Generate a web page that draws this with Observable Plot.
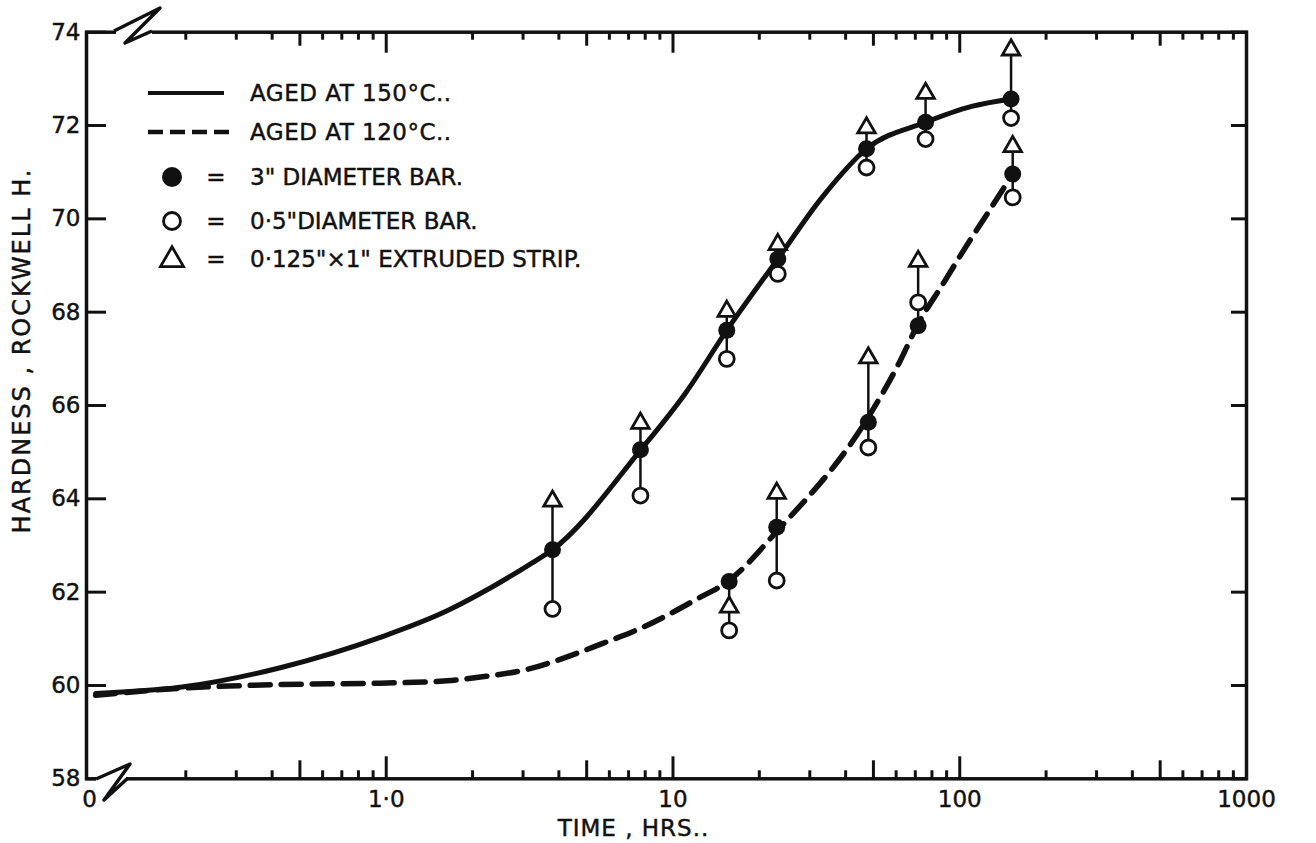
<!DOCTYPE html>
<html>
<head>
<meta charset="utf-8">
<script src="https://cdn.jsdelivr.net/npm/d3@7"></script>
<script src="https://cdn.jsdelivr.net/npm/@observablehq/plot@0.6"></script>
<style>
  body { margin: 0; background: #ffffff; }
  #chart svg { display: block; }
  #chart svg text { stroke: #111; stroke-width: 0.45px; }
</style>
</head>
<body>
<div id="chart"></div>
<script>
// ---------- data ----------
const xMin = 0.0901, xMax = 1000;
const xTickValues = [0.0901, 1, 10, 100, 1000];
const xTickLabels = ["0", "1·0", "10", "100", "1000"];
const xMajorTicks = [1, 10, 100];
const xFiveTicks = [0.5, 5, 50, 500];
const xMinorTicks = [0.2, 0.3, 0.4, 0.6, 0.7, 0.8, 0.9, 2, 3, 4, 6, 7, 8, 9, 20, 30, 40, 60, 70, 80, 90, 200, 300, 400, 600, 700, 800, 900];
const yTickValues = [58, 60, 62, 64, 66, 68, 70, 72, 74];

// Aged at 150 C (solid curve)
const times150 = [3.8, 7.7, 15.4, 23.2, 47.3, 76, 151];
const bar3in150 = [62.91, 65.05, 67.61, 69.14, 71.50, 72.07, 72.57];
const bar05in150 = [61.64, 64.07, 67.00, 68.82, 71.10, 71.71, 72.16];
const strip150 = [63.95, 65.62, 68.02, 69.45, 71.95, 72.69, 73.62];

// Aged at 120 C (dashed curve)
const times120 = [15.7, 23.0, 48.0, 71.6, 153];
const bar3in120 = [62.23, 63.39, 65.64, 67.71, 70.96];
const bar05in120 = [61.18, 62.25, 65.10, 68.21, 70.46];
const strip120 = [61.68, 64.12, 67.02, 69.09, 71.55];

// curves as traced
const curve150T = [0.0969, 0.191, 0.427, 0.953, 1.63, 2.13, 3.25, 3.8, 7.72, 11.1, 15.4, 23.2, 33, 47.3, 76, 110, 151];
const curve150V = [59.83, 59.96, 60.38, 61.03, 61.60, 61.97, 62.64, 62.91, 65.05, 66.28, 67.61, 69.14, 70.45, 71.50, 72.07, 72.41, 72.57];
const curve120T = [0.0969, 0.191, 0.427, 0.953, 1.63, 2.13, 3.17, 4.04, 5.57, 7.87, 12.1, 15.7, 23.0, 48.0, 61.9, 71.6, 87.3, 105, 123, 153];
const curve120V = [59.79, 59.94, 60.02, 60.05, 60.10, 60.18, 60.36, 60.56, 60.88, 61.25, 61.85, 62.25, 63.30, 65.75, 66.95, 67.75, 68.60, 69.40, 70.05, 70.96];

// texts
const legendLines = ["AGED AT 150°C..", "AGED AT 120°C.."];
const legendSymbols = ["3\" DIAMETER BAR.", "0·5\"DIAMETER BAR.", "0·125\"×1\" EXTRUDED STRIP."];
const xTitle = "TIME , HRS..";
const yTitle = "HARDNESS , ROCKWELL H.";

// ---------- build tables ----------
function points(times, a, b, c) {
  const out = [];
  times.forEach((t, i) => {
    out.push({t, v: a[i], kind: "bar3"});
    out.push({t, v: b[i], kind: "bar05"});
    out.push({t, v: c[i], kind: "strip"});
  });
  return out;
}
function spans(times, a, b, c) {
  return times.map((t, i) => ({t, lo: Math.min(a[i], b[i], c[i]), hi: Math.max(a[i], b[i], c[i])}));
}
const pts = points(times150, bar3in150, bar05in150, strip150).concat(points(times120, bar3in120, bar05in120, strip120));
const conn = spans(times150, bar3in150, bar05in150, strip150).concat(spans(times120, bar3in120, bar05in120, strip120));
const c150 = curve150T.map((t, i) => ({t, v: curve150V[i]}));
const c120 = curve120T.map((t, i) => ({t, v: curve120V[i]}));

const FONT = "DejaVu Sans, Verdana, sans-serif";
const FS = 23;
const W = 1316, H = 843;
const mL = 86, mR = 70, mT = 31.7, mB = 64.7;
const blank = () => "";

const plot = Plot.plot({
  width: W, height: H,
  marginLeft: mL, marginRight: mR, marginTop: mT, marginBottom: mB,
  style: {fontFamily: FONT, fontSize: FS + "px", color: "#111", background: "#fff"},
  x: {type: "log", domain: [xMin, xMax]},
  y: {domain: [58, 74]},
  marks: [
    // tick labels
    Plot.axisX(xTickValues.slice(1), {anchor: "bottom", tickSize: 0, tickPadding: 12, fontSize: FS,
      tickFormat: d => xTickLabels[xTickValues.indexOf(d)], label: null}),
    Plot.text([xTickValues[0]], {x: d => d, frameAnchor: "bottom", lineAnchor: "top", dy: 12, dx: 3,
      text: d => xTickLabels[xTickValues.indexOf(d)], fontSize: FS, fill: "#111"}),
    Plot.axisY(yTickValues, {anchor: "left", tickSize: 0, tickPadding: 6, fontSize: FS, tickFormat: d => String(d), label: null}),
    // inward ticks bottom
    Plot.axisX(xMajorTicks, {anchor: "bottom", tickSize: 22, dy: -22, tickFormat: blank, strokeWidth: 3, label: null}),
    Plot.axisX(xFiveTicks, {anchor: "bottom", tickSize: 18, dy: -18, tickFormat: blank, strokeWidth: 3, label: null}),
    Plot.axisX(xMinorTicks, {anchor: "bottom", tickSize: 8, dy: -8, tickFormat: blank, strokeWidth: 3, label: null}),
    // inward ticks top
    Plot.axisX(xMajorTicks, {anchor: "top", tickSize: 20, dy: 20, tickFormat: blank, strokeWidth: 3, label: null}),
    Plot.axisX(xFiveTicks, {anchor: "top", tickSize: 13, dy: 13, tickFormat: blank, strokeWidth: 3, label: null}),
    Plot.axisX(xMinorTicks, {anchor: "top", tickSize: 7, dy: 7, tickFormat: blank, strokeWidth: 3, label: null}),
    // inward ticks left / right
    Plot.axisY(yTickValues, {anchor: "left", tickSize: 20, dx: 20, tickFormat: blank, strokeWidth: 3, label: null}),
    Plot.axisY(yTickValues, {anchor: "right", tickSize: 16, dx: -16, tickFormat: blank, strokeWidth: 3, label: null}),
    Plot.frame({stroke: "#111", strokeWidth: 3.5}),
    // axis titles
    Plot.text([xTitle], {text: d => d, frameAnchor: "bottom", textAnchor: "middle", lineAnchor: "middle",
      dx: -33, dy: 50, fontSize: 23, fill: "#111"}),
    Plot.text([yTitle], {text: d => d, frameAnchor: "left", textAnchor: "middle", lineAnchor: "middle",
      dx: -64, dy: -55, rotate: -90, fontSize: 24, fill: "#111"}),
    // connectors
    Plot.ruleX(conn, {x: "t", y1: "lo", y2: "hi", stroke: "#111", strokeWidth: 2.5}),
    // curves
    Plot.line(c150, {x: "t", y: "v", curve: "monotone-x", stroke: "#111", strokeWidth: 5}),
    Plot.line(c120, {x: "t", y: "v", curve: "monotone-x", stroke: "#111", strokeWidth: 5.5, strokeDasharray: "20,11"}),
    // markers
    Plot.dot(pts.filter(d => d.kind === "bar05"), {x: "t", y: "v", r: 7.5, fill: "white", stroke: "#111", strokeWidth: 2.8}),
    Plot.dot(pts.filter(d => d.kind === "strip"), {x: "t", y: "v", symbol: "triangle", r: 6.5, fill: "white", stroke: "#111", strokeWidth: 2.8}),
    Plot.dot(pts.filter(d => d.kind === "bar3"), {x: "t", y: "v", r: 8.5, fill: "#111", stroke: "none"})
  ]
});
document.getElementById("chart").appendChild(plot);

// letter spacing for the axis titles
d3.select(plot).selectAll("text").filter(function() { return this.textContent === yTitle; }).style("letter-spacing", "2px");
d3.select(plot).selectAll("text").filter(function() { return this.textContent === xTitle; }).style("letter-spacing", "1px");

// ---------- axis breaks & legend (decoration) ----------
const svg = d3.select(plot);
const deco = svg.append("g").attr("fill", "none").attr("stroke", "#111").attr("stroke-width", 3.5).attr("stroke-linejoin", "round");
svg.insert("rect", "g:last-child").attr("x", 116).attr("y", 26).attr("width", 36).attr("height", 11).attr("fill", "#fff");
deco.append("path").attr("d", "M114,31 L160,8 L125,43 L152,31");
svg.insert("rect", "g:last-child").attr("x", 96).attr("y", 773).attr("width", 30).attr("height", 11).attr("fill", "#fff");
deco.append("path").attr("d", "M96,779 L130,764 L104,800 L128,778");

const leg = svg.append("g").attr("font-family", FONT).attr("font-size", FS).attr("fill", "#111").attr("text-anchor", "start");
leg.append("path").attr("d", "M148,93 H224").attr("stroke", "#111").attr("stroke-width", 4);
leg.append("path").attr("d", "M148,132 H230").attr("stroke", "#111").attr("stroke-width", 4.5).attr("stroke-dasharray", "15,7");
leg.append("text").attr("x", 250).attr("y", 93).attr("dy", "0.35em").style("letter-spacing", "0.5px").text(legendLines[0]);
leg.append("text").attr("x", 250).attr("y", 132).attr("dy", "0.35em").style("letter-spacing", "0.5px").text(legendLines[1]);
leg.append("circle").attr("cx", 172).attr("cy", 177).attr("r", 10).attr("fill", "#111");
leg.append("circle").attr("cx", 172).attr("cy", 221).attr("r", 8.5).attr("fill", "#fff").attr("stroke", "#111").attr("stroke-width", 2.8);
leg.append("path").attr("transform", "translate(172,260)").attr("d", d3.symbol(d3.symbolTriangle, 230)()).attr("fill", "#fff").attr("stroke", "#111").attr("stroke-width", 2.8);
[177, 221, 259].forEach((y, i) => {
  leg.append("text").attr("x", 216).attr("y", y).attr("dy", "0.35em").attr("text-anchor", "middle").text("=");
  leg.append("text").attr("x", 250).attr("y", y).attr("dy", "0.35em").text(legendSymbols[i]);
});
</script>
</body>
</html>
